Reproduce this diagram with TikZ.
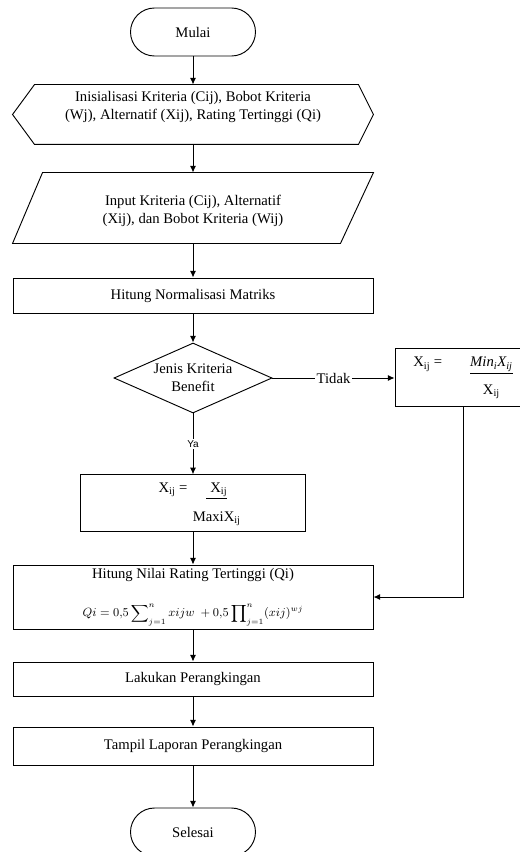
\documentclass[tikz,border=0pt]{standalone}
\usepackage{fontspec}
\setmainfont{Liberation Serif}
\newfontfamily\yafont{Liberation Sans}
\usepackage{amsmath}
\usetikzlibrary{shapes.geometric,arrows.meta}

\tikzset{
    box/.style={draw, rectangle, minimum width=270pt, align=center},
    term/.style={draw, rounded corners=18pt, minimum width=93.75pt, minimum height=36pt},
    flow/.style={-{Latex[length=5pt,width=4.5pt]}},
    lbl/.style={fill=white, inner sep=1pt}
}

\begin{document}
\begin{tikzpicture}[x=0.75pt, y=-0.75pt, line width=0.7pt, font=\fontsize{11pt}{13.8pt}\selectfont]

        \useasboundingbox (0,0) rectangle (520,852);

        \node[term] (mulai) at (193,32) {Mulai};

        \node[align=center, inner sep=0pt, minimum width=270pt, minimum height=44.25pt] (init) at (193,114.5)
            {Inisialisasi Kriteria (Cij), Bobot Kriteria\\(Wj), Alternatif (Xij), Rating Tertinggi (Qi)\\ \mbox{}};
        \draw (init.west) -- ([xshift=16.5pt]init.north west) -- ([xshift=-11.25pt]init.north east)
            -- (init.east) -- ([xshift=-11.25pt]init.south east) -- ([xshift=16.5pt]init.south west) -- cycle;

        \node[align=center, inner sep=0pt, minimum width=270pt, minimum height=52.5pt] (input) at (193,208)
            {\\[-2pt]Input Kriteria (Cij), Alternatif\\(Xij), dan Bobot Kriteria (Wij)};
        \draw ([xshift=22.5pt]input.north west) -- (input.north east)
            -- ([xshift=-24.75pt]input.south east) -- (input.south west) -- cycle;

        \node[box, minimum height=26.25pt] (norm) at (193,295.5) {Hitung Normalisasi Matriks};

        \node[draw, diamond, aspect=2.26, minimum width=118.5pt, minimum height=52.5pt, inner sep=0pt, align=center]
            (jenis) at (193,378) {Jenis Kriteria\\Benefit};

        \node[draw, minimum width=102pt, minimum height=43.5pt] (minbox) at (463,377)
            {\begin{tabular}{@{}l@{\hspace{21pt}}c@{}}
                X\textsubscript{ij} = & \underline{\textit{Min\textsubscript{i}X\textsubscript{ij}}}\\[7pt]
                & X\textsubscript{ij}
            \end{tabular}};

        \node[draw, minimum width=168.75pt, minimum height=39pt] (maxbox) at (193,503)
            {\hspace*{10pt}\begin{tabular}{@{}l@{\hspace{4pt}}c@{}}
                X\textsubscript{ij} = & \underline{\hspace{3pt}X\textsubscript{ij}}\\[8pt]
                & MaxiX\textsubscript{ij}
            \end{tabular}};

        \node[box, minimum height=48pt, inner ysep=1pt] (rating) at (193,597)
            {Hitung Nilai Rating Tertinggi (Qi)\\[15pt]
            \small$Qi = 0{,}5 \displaystyle\sum\nolimits_{j=1}^{n} xijw \; + 0{,}5 \prod\nolimits_{j=1}^{n} (xij)^{wj}$};

        \node[box, minimum height=25.5pt] (rank) at (193,679) {Lakukan Perangkingan};
        \node[box, minimum height=28.5pt] (laporan) at (193,746) {Tampil Laporan Perangkingan};
        \node[term] (selesai) at (193,832) {Selesai};

        \draw[flow] (mulai) -- (init);
        \draw[flow] (init) -- (input);
        \draw[flow] (input) -- (norm);
        \draw[flow] (norm) -- (jenis);
        \draw[flow] (jenis) -- node[lbl, font=\yafont\fontsize{7.5pt}{9pt}\selectfont] {Ya} (maxbox);
        \draw[flow] (jenis.east) -- node[lbl] {Tidak} (jenis.east -| minbox.west);
        \draw[flow] (minbox.south) |- (rating.east);
        \draw[flow] (maxbox) -- (rating);
        \draw[flow] (rating) -- (rank);
        \draw[flow] (rank) -- (laporan);
        \draw[flow] (laporan) -- (selesai);
    \end{tikzpicture}
\end{document}
